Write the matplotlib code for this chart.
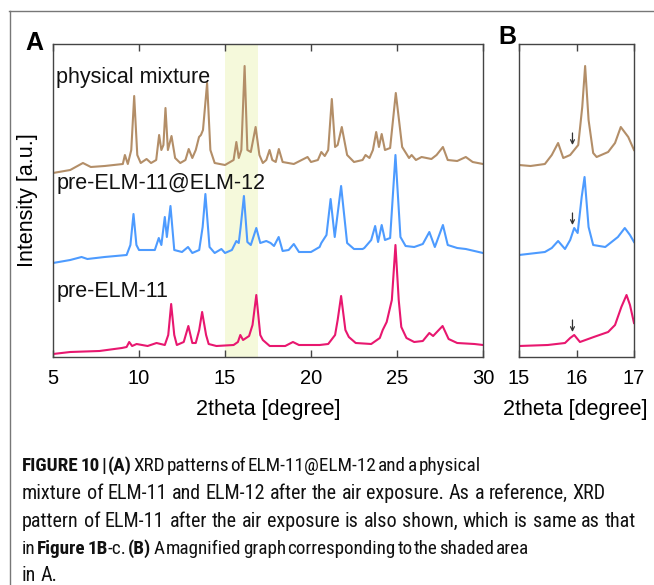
import matplotlib
matplotlib.use("Agg")
import matplotlib.pyplot as plt
from matplotlib.lines import Line2D
from matplotlib import font_manager as fm

W, H = 654, 585

# ---------------- data (2theta in degree, intensity in arbitrary units incl. offset) -------------
mix_a_x = [5.0, 6.0, 6.74, 7.2, 8.0, 9.06, 9.18, 9.35, 9.55, 9.72, 9.9, 10.1, 10.44, 10.7, 11.0, 11.17,
           11.3, 11.42, 11.54, 11.68, 11.89, 12.1, 12.4, 12.7, 12.89, 13.1, 13.3, 13.49, 13.6, 13.72, 13.96,
           14.15, 14.4, 15.0, 15.5, 15.66, 15.8, 15.95, 16.14, 16.3, 16.5, 16.78, 17.0, 17.2, 17.4, 17.59,
           17.75, 17.95, 18.13, 18.35, 19.0, 19.8, 20.0, 20.4, 20.6, 20.8, 21.0, 21.21, 21.4, 21.55, 21.79,
           22.1, 22.5, 23.0, 23.17, 23.4, 23.6, 23.79, 23.95, 24.11, 24.3, 24.6, 24.93, 25.3, 25.7, 25.85,
           26.1, 26.43, 27.0, 27.3, 27.67, 27.95, 28.5, 29.0, 29.4, 30.0]
mix_a_y = [184, 187, 194, 190, 191, 193, 202, 193, 207, 261, 202, 194, 198, 194, 197, 222,
           207, 212, 249, 207, 221, 199, 194, 197, 208, 199, 207, 220, 222, 227, 274,
           207, 194, 192, 197, 215, 199, 207, 291, 207, 205, 230, 202, 194, 197, 207,
           197, 195, 208, 195, 193, 200, 195, 197, 205, 201, 207, 258, 210, 212, 230,
           202, 195, 197, 202, 199, 207, 225, 210, 223, 207, 209, 264, 210, 199, 202,
           197, 200, 198, 202, 210, 197, 196, 200, 195, 193]

comp_a_x = [5.0, 6.0, 6.66, 7.0, 8.0, 9.28, 9.5, 9.68, 9.85, 10.0, 10.63, 10.92, 11.15, 11.3, 11.5, 11.62,
            11.83, 12.05, 12.5, 12.85, 13.1, 13.5, 13.7, 13.86, 14.1, 14.4, 14.79, 15.0, 15.4, 15.66, 15.8,
            15.91, 16.1, 16.3, 16.5, 16.82, 17.05, 17.4, 17.65, 17.85, 18.12, 18.35, 18.7, 19.0, 19.3, 20.0,
            20.5, 20.6, 20.9, 21.14, 21.38, 21.75, 22.1, 22.5, 23.0, 23.1, 23.5, 23.73, 23.9, 24.11, 24.3,
            24.6, 24.91, 25.2, 25.5, 26.0, 26.5, 26.88, 27.2, 27.67, 27.95, 28.5, 29.0, 29.5, 30.0]
comp_a_y = [94, 97, 100, 98, 100, 102, 112, 143, 112, 107, 107, 107, 119, 112, 140, 120,
            151, 107, 105, 110, 104, 107, 130, 163, 110, 104, 108, 104, 107, 116, 114,
            130, 161, 115, 112, 129, 114, 116, 114, 111, 120, 106, 107, 113, 105, 105,
            110, 114, 122, 158, 120, 171, 114, 108, 108, 109, 117, 131, 115, 132, 117,
            119, 202, 120, 111, 110, 113, 125, 110, 132, 112, 109, 108, 106, 104]

pre11_a_x = [5.0, 6.0, 7.7, 9.0, 9.28, 9.43, 9.6, 9.86, 10.5, 11.02, 11.5, 11.7, 11.87, 12.05, 12.2, 12.6,
             12.87, 13.1, 13.3, 13.5, 13.67, 13.9, 14.05, 14.5, 15.5, 15.75, 15.89, 16.05, 16.4, 16.6, 16.82,
             17.05, 17.2, 17.6, 18.5, 18.95, 19.3, 20.0, 20.5, 21.0, 21.4, 21.55, 21.75, 22.0, 22.2, 22.6,
             23.5, 24.0, 24.17, 24.4, 24.7, 24.91, 25.1, 25.25, 25.55, 26.0, 26.5, 26.88, 27.1, 27.65, 28.0,
             28.5, 29.5, 30.0]
pre11_a_y = [3, 5, 6, 9, 10, 15, 11, 13, 11, 14, 12, 22, 53, 22, 12, 15,
             31, 14, 14, 27, 45, 22, 13, 11, 12, 15, 22, 17, 21, 32, 62,
             22, 17, 11, 11, 15, 12, 12, 12, 13, 22, 37, 61, 27, 20, 14,
             13, 19, 27, 35, 57, 112, 57, 30, 19, 15, 16, 24, 21, 31, 18,
             14, 13, 12]

mix_b_x = [15.0, 15.2, 15.45, 15.57, 15.68, 15.77, 15.89, 15.96, 16.03, 16.1, 16.15, 16.21, 16.29, 16.35,
           16.55, 16.67, 16.77, 16.9, 17.0]
mix_b_y = [192, 191, 193, 202, 214, 199, 202, 207, 212, 250, 291, 237, 204, 200,
           205, 214, 230, 220, 207]

comp_b_x = [15.0, 15.45, 15.57, 15.68, 15.8, 15.89, 15.96, 16.02, 16.09, 16.14, 16.21, 16.29, 16.5, 16.72,
            16.84, 16.93, 17.0]
comp_b_y = [102, 105, 109, 116, 108, 117, 129, 124, 160, 180, 130, 112, 110, 120,
            129, 122, 115]

pre11_b_x = [15.0, 15.5, 15.8, 15.89, 15.96, 16.06, 16.3, 16.55, 16.67, 16.78, 16.87, 16.93, 17.0]
pre11_b_y = [11, 12, 14, 19, 22, 15, 20, 25, 32, 50, 62, 52, 34]

series_names = ["physical mixture", "pre-ELM-11@ELM-12", "pre-ELM-11"]
series_label_y = [280, 174, 65]
arrow_x = 15.93
arrow_tail = [224, 144, 37]
arrow_tip = [212, 132, 25]
shade_range = (15.0, 16.9)
ticks_a = [5, 10, 15, 20, 25, 30]
ticks_b = [15, 16, 17]

B, N = True, False
caption_lines = [
    [[("FIGURE", B)], [("10", B)], [("|", B)], [("(A)", B)], [("XRD", N)], [("patterns", N)], [("of", N)],
     [("ELM-11@ELM-12", N)], [("and", N)], [("a", N)], [("physical", N)]],
    [[(w, N)] for w in "mixture of ELM-11 and ELM-12 after the air exposure. As a reference, XRD".split()],
    [[(w, N)] for w in "pattern of ELM-11 after the air exposure is also shown, which is same as that".split()],
    [[("in", N)], [("Figure", B)], [("1B", B), ("-c.", N)], [("(B)", B)], [("A", N)], [("magnified", N)],
     [("graph", N)], [("corresponding", N)], [("to", N)], [("the", N)], [("shaded", N)], [("area", N)]],
    [[("in", N)], [("A.", N)]],
]
caption_right = [475, 640, 636, 480, None]
caption_base = [471, 499, 527, 554, 581]

# ---------------- style -------------
C_MIX = "#b38e68"
C_COMP = "#4d9bff"
C_PRE = "#e8176f"
C_SHADE = "#f5f9db"
SPINE = "#444444"


def first_font(cands):
    for c in cands:
        try:
            fm.findfont(fm.FontProperties(family=c), fallback_to_default=False)
            return c
        except Exception:
            continue
    return "DejaVu Sans"


FONT = first_font(["Liberation Sans", "Arial", "DejaVu Sans"])
CAP_FONT = first_font(["Liberation Sans Narrow", "Roboto Condensed", "Open Sans Condensed",
                       "Liberation Sans"])

plt.rcParams["font.family"] = [FONT, "DejaVu Sans"]

fig = plt.figure(figsize=(W / 100, H / 100), dpi=100)
fig.patch.set_facecolor("white")


def fx(px):
    return px / W


def fy(py):
    return 1 - py / H


axA = fig.add_axes([fx(53), fy(357), (483 - 53) / W, (357 - 44) / H])
axB = fig.add_axes([fx(519), fy(357), (634 - 519) / W, (357 - 44) / H])

for ax in (axA, axB):
    ax.set_ylim(0, 313)
    ax.set_yticks([])
    for s in ax.spines.values():
        s.set_color(SPINE)
        s.set_linewidth(1.0)
    ax.tick_params(axis="x", direction="in", top=True, bottom=True, length=5, width=1.0,
                   color=SPINE, labelsize=14.5, pad=9, labelcolor="black")

lw = 1.5
axA.axvspan(*shade_range, color=C_SHADE, lw=0, zorder=0)
axA.plot(mix_a_x, mix_a_y, color=C_MIX, lw=lw)
axA.plot(comp_a_x, comp_a_y, color=C_COMP, lw=lw)
axA.plot(pre11_a_x, pre11_a_y, color=C_PRE, lw=lw)
axA.set_xlim(5, 30)
axA.set_xticks(ticks_a)
axA.set_xticklabels([str(t) for t in ticks_a])

for name, yv in zip(series_names, series_label_y):
    axA.text(5.2, yv, name, fontsize=15.5, va="center", ha="left", color="#111111")

axB.plot(mix_b_x, mix_b_y, color=C_MIX, lw=lw)
axB.plot(comp_b_x, comp_b_y, color=C_COMP, lw=lw)
axB.plot(pre11_b_x, pre11_b_y, color=C_PRE, lw=lw)
axB.set_xlim(15, 17)
axB.set_xticks(ticks_b)
axB.set_xticklabels([str(t) for t in ticks_b])
for t0, t1 in zip(arrow_tail, arrow_tip):
    axB.annotate("", xy=(arrow_x, t1), xytext=(arrow_x, t0),
                 arrowprops=dict(arrowstyle="->", lw=0.9, color="#333333",
                                 shrinkA=0, shrinkB=0, mutation_scale=7))

# axis labels
fig.text(fx(268), fy(410), "2theta [degree]", fontsize=15.5, ha="center", va="center")
fig.text(fx(575), fy(410), "2theta [degree]", fontsize=15.5, ha="center", va="center")
fig.text(fx(28), fy(200), "Intensity [a.u.]", fontsize=15.5, ha="center", va="center", rotation=90)
fig.text(fx(34.5), fy(43), "A", fontsize=18, fontweight="bold", ha="center", va="center")
fig.text(fx(507.5), fy(37), "B", fontsize=18, fontweight="bold", ha="center", va="center")

# frame lines
fig.add_artist(Line2D([fx(9), fx(654)], [fy(10.5), fy(10.5)], color="#777777", lw=1.0))
fig.add_artist(Line2D([fx(9.5), fx(9.5)], [fy(10.5), fy(585)], color="#777777", lw=1.0))

# caption
renderer = fig.canvas.get_renderer()


def seg_width(txt, size, bold):
    kw = dict(fontsize=size, fontweight="bold" if bold else "normal", family=[CAP_FONT, "DejaVu Sans"])
    t1 = fig.text(0, 0, "|" + txt + "|", **kw)
    t2 = fig.text(0, 0, "||", **kw)
    w = t1.get_window_extent(renderer).width - t2.get_window_extent(renderer).width
    t1.remove()
    t2.remove()
    return w


def word_width(word, size):
    return sum(seg_width(t, size, b) for t, b in word)


def line_width(words, size):
    sp = seg_width(" ", size, False)
    return sum(word_width(wd, size) for wd in words) + sp * (len(words) - 1)


LEFT = 22.0
base = 12.0
# natural width of line 2 sets the font size
cap_size = base * (caption_right[1] - LEFT) / line_width(caption_lines[1], base)
cap_size = max(9.0, min(cap_size, 14.5))
space = seg_width(" ", cap_size, False)

for words, yb, right in zip(caption_lines, caption_base, caption_right):
    widths = [word_width(wd, cap_size) for wd in words]
    size = cap_size
    gap = space
    if right is not None and len(words) > 1:
        gap = (right - LEFT - sum(widths)) / (len(words) - 1)
        if gap > 1.6 * space:
            gap = space
        if gap < 0.35 * space:
            gap = 0.35 * space
            avail = right - LEFT - gap * (len(words) - 1)
            size = max(cap_size * avail / sum(widths), 0.95 * cap_size)
            widths = [word_width(wd, size) for wd in words]
    x = LEFT
    for wd, ww in zip(words, widths):
        xx = x
        for txt, bold in wd:
            fig.text(fx(xx), fy(yb), txt, fontsize=size, fontweight="bold" if bold else "normal",
                     family=[CAP_FONT, "DejaVu Sans"], ha="left", va="baseline", color="#111111")
            xx += seg_width(txt, size, bold)
        x += ww + gap

fig.savefig("out.png", dpi=100, facecolor="white")
